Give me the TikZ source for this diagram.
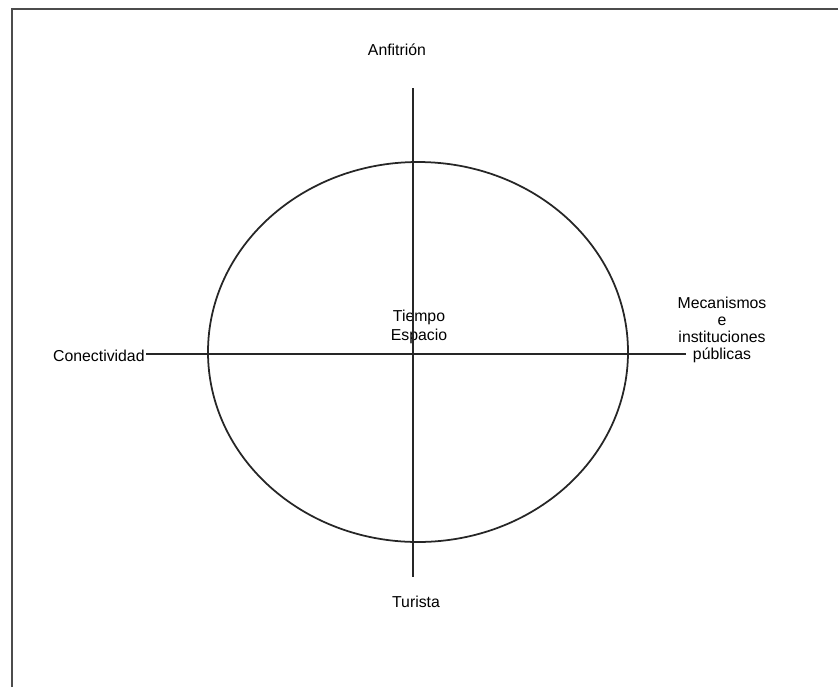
\documentclass[tikz,border=0pt]{standalone}
\usepackage{fontspec}
\setmainfont{Liberation Sans}
\usetikzlibrary{positioning}

\begin{document}
\begin{tikzpicture}[
                    x=0.03cm, y=-0.03cm,
                    lbl/.style={inner sep=1pt, align=center, font=\fontsize{13.5}{15}\selectfont},
                    axis/.style={line width=1.5pt, black!85},
                    frame/.style={line width=1.6pt, black!70}
                ]
                \useasboundingbox (0,0) rectangle (838,687);
                \draw[frame] (12,687) -- (12,9) -- (838,9);

                \draw[axis] (418,352) ellipse [x radius=210, y radius=190];

                \node[lbl] (host) at (397,50) {Anfitrión};
                \node[lbl] (tourist) at (416,602) {Turista};
                \node[lbl] (time) at (419,327) {Tiempo\\[1pt]Espacio};
                \node[lbl, anchor=east] (conn) at (146,356) {Conectividad};
                \node[lbl] (mech) at (722,330) {Mecanismos\\[-1pt]e\\[0pt]instituciones\\[-1pt]públicas};

                \coordinate (vtop) at (413,88);
                \coordinate (vbot) at (413,577);
                \coordinate (hend) at (686,354);

                \draw[axis] (vtop) -- (vbot);
                \draw[axis] (conn.east |- hend) -- (hend);
            \end{tikzpicture}
\end{document}
